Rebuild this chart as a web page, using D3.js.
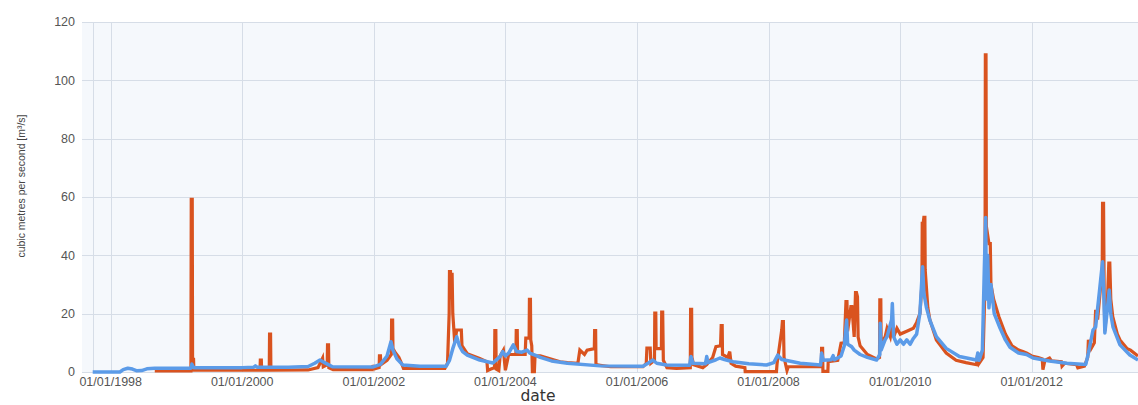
<!DOCTYPE html>
<html>
<head>
<meta charset="utf-8">
<script src="https://cdn.jsdelivr.net/npm/d3@7"></script>
<style>
html,body{margin:0;padding:0;background:#fff;}
svg{display:block;}
</style>
</head>
<body>
<svg id="chart" width="1138" height="405"></svg>
<script>
// ---- data (time as decimal year, value in m3/s) ----
const yTicks = [0, 20, 40, 60, 80, 100, 120];
const xTickYears = [1998, 2000, 2002, 2004, 2006, 2008, 2010, 2012];
const xDomainYears = [1997.726, 2013.614];

// orange series
const observed = [
[1998.67,0.4],[1999.22,0.4],[1999.225,59.2],[1999.24,59.2],[1999.245,4.3],[1999.26,4.3],[1999.265,0.6],
[2000.27,0.6],[2000.275,4.1],[2000.29,4.1],[2000.295,0.6],[2000.41,0.6],[2000.415,13.0],[2000.43,13.0],[2000.435,0.6],
[2001.0,0.7],[2001.15,1.5],[2001.22,4.8],[2001.23,1.8],[2001.29,2.5],[2001.295,9.3],[2001.31,9.3],[2001.315,1.5],[2001.38,0.8],
[2001.98,0.8],[2001.985,2.4],[2002.0,1.0],[2002.08,1.5],[2002.085,5.5],[2002.1,5.5],[2002.105,2.5],[2002.2,4],[2002.265,6],
[2002.27,17.8],[2002.285,17.8],[2002.29,8],[2002.33,6.5],[2002.38,5],[2002.42,3],[2002.45,1.2],
[2003.08,1.2],[2003.12,3],[2003.145,20],[2003.15,34.4],[2003.165,34.4],[2003.17,25],[2003.18,33.5],[2003.19,33.5],[2003.2,20],
[2003.23,10],[2003.26,14.4],[2003.33,14.4],[2003.34,9],[2003.42,6.3],[2003.61,4.6],[2003.72,3.5],[2003.73,0.5],[2003.78,1.0],
[2003.835,1.5],[2003.84,14.2],[2003.855,14.2],[2003.86,1],[2003.9,0.5],[2003.92,5.5],[2003.97,7.5],[2004.0,0.6],[2004.05,6],
[2004.16,6],[2004.165,14.2],[2004.18,14.2],[2004.185,6],[2004.3,6],[2004.31,11.6],[2004.36,11.6],[2004.365,24.9],[2004.38,24.9],
[2004.385,11],[2004.4,9],[2004.41,0.1],[2004.44,0.1],[2004.45,5.5],[2004.53,5.5],[2004.83,3.5],[2004.94,3.2],
[2005.1,3.0],[2005.13,7.5],[2005.2,6],[2005.24,7.5],[2005.35,8],[2005.355,14.2],[2005.37,14.2],[2005.375,2.5],[2005.44,2.3],[2005.6,1.8],
[2006.09,1.8],[2006.14,3],[2006.15,8.2],[2006.2,8.2],[2006.21,3],[2006.265,4],[2006.27,20.2],[2006.285,20.2],[2006.29,8],[2006.37,8],
[2006.375,20.5],[2006.39,20.5],[2006.4,4],[2006.455,1.5],[2006.6,1.2],[2006.81,1.5],[2006.815,21.5],[2006.83,21.5],[2006.835,5],[2006.86,2.5],
[2007.0,1.5],[2007.06,2.5],[2007.15,5],[2007.2,8.7],[2007.27,9],[2007.28,15.9],[2007.295,15.9],[2007.3,6],[2007.38,5],[2007.41,7],
[2007.43,3],[2007.5,2],[2007.64,1.5],[2007.645,0.1],[2008.12,0.1],[2008.13,3],[2008.2,14.4],[2008.21,17.3],[2008.225,17.3],[2008.235,5],
[2008.28,0.5],[2008.3,1.8],[2008.8,1.8],[2008.805,8.1],[2008.82,8.1],[2008.825,0.2],[2008.9,0.2],[2008.905,3.5],[2009.05,4],
[2009.1,9.9],[2009.15,10],[2009.175,24.1],[2009.19,24.1],[2009.2,14],[2009.25,22.4],[2009.265,22.4],[2009.3,12],[2009.32,27.2],
[2009.335,27.2],[2009.35,25.8],[2009.36,12],[2009.39,9],[2009.5,6],[2009.64,4.5],[2009.685,5],[2009.69,24.7],[2009.705,24.7],
[2009.71,10],[2009.77,12],[2009.8,15],[2009.85,12],[2009.88,16],[2009.9,12],[2009.95,15],[2010.0,13],[2010.1,14],[2010.2,15],
[2010.25,17],[2010.3,20],[2010.33,30],[2010.335,51],[2010.35,51],[2010.36,53],[2010.375,53],[2010.38,35],[2010.42,22],[2010.45,18],
[2010.55,11],[2010.7,6.5],[2010.85,4],[2011.0,3.2],[2011.16,2.5],[2011.18,6.5],[2011.2,3],[2011.26,5],[2011.29,30],[2011.295,108.7],
[2011.305,108.7],[2011.31,50],[2011.35,44],[2011.37,44],[2011.38,30],[2011.42,25],[2011.5,19],[2011.6,13],[2011.7,9],
[2011.8,7.5],[2011.865,7],[2011.92,6.5],[2012.0,5.5],[2012.1,5],[2012.16,4.5],[2012.17,0.8],[2012.2,4],[2012.27,4.8],[2012.3,3.8],
[2012.45,3.5],[2012.46,2],[2012.5,3],[2012.68,2.5],[2012.7,1.4],[2012.8,2],[2012.85,5],[2012.86,11],[2012.9,8],[2012.95,10],
[2012.97,21.3],[2013.0,18],[2013.04,28],[2013.07,35],[2013.075,57.8],[2013.09,57.8],[2013.1,25],[2013.11,14],[2013.15,25],
[2013.17,37.3],[2013.185,37.3],[2013.2,25],[2013.23,19],[2013.3,13],[2013.34,11],[2013.45,8],[2013.5,7.5],[2013.614,5.5]
];

// blue series
const modelled = [
[1997.726,0],[1998.14,0],[1998.19,0.8],[1998.26,1.3],[1998.33,1.0],[1998.4,0.4],[1998.47,0.5],[1998.55,1.1],[1998.67,1.3],
[1999.22,1.3],[1999.235,2.7],[1999.26,1.5],[2000.0,1.5],[2000.17,1.6],[2000.2,2.1],[2000.23,1.6],[2000.7,1.6],
[2001.0,1.9],[2001.1,3.0],[2001.18,4.1],[2001.25,3.2],[2001.3,2.6],[2001.37,1.8],[2001.98,1.7],[2002.1,2.6],[2002.2,5.5],
[2002.26,10.4],[2002.29,7.5],[2002.35,4.5],[2002.44,2.4],[2002.7,2.0],[2003.1,2.0],[2003.15,4],[2003.2,8],[2003.26,12.1],
[2003.3,9],[2003.35,7],[2003.42,5.8],[2003.61,4.1],[2003.81,3.1],[2003.88,4.5],[2003.92,5.3],[2003.96,7],[2004.0,5.5],
[2004.05,6.5],[2004.12,9.3],[2004.17,7],[2004.25,6.8],[2004.33,7.5],[2004.37,6.5],[2004.45,5.8],[2004.53,5.0],[2004.7,3.8],
[2004.94,3.0],[2005.44,2.1],[2006.09,2.0],[2006.18,3.2],[2006.24,4.1],[2006.3,3.0],[2006.45,2.4],[2006.8,2.3],[2006.82,5.3],
[2006.85,3.0],[2007.04,2.8],[2007.06,5.3],[2007.08,3.2],[2007.2,4.2],[2007.26,4.8],[2007.33,4.3],[2007.46,3.5],[2007.7,2.8],
[2007.97,2.4],[2008.08,3.2],[2008.14,5.8],[2008.2,4.3],[2008.37,3.5],[2008.48,3.0],[2008.79,2.4],[2008.805,6.5],[2008.83,4.0],
[2008.95,4.2],[2008.98,5.6],[2009.0,4.2],[2009.1,5.5],[2009.15,9],[2009.185,17.8],[2009.2,9.5],[2009.26,8.7],[2009.3,7.5],
[2009.39,6],[2009.5,5],[2009.64,4.1],[2009.69,6],[2009.695,16.7],[2009.71,7.5],[2009.77,11],[2009.8,12.1],[2009.87,18],
[2009.88,23.5],[2009.9,12.1],[2009.95,9.5],[2010.0,11],[2010.05,9.5],[2010.1,11],[2010.15,9.5],[2010.2,11.5],[2010.25,13],
[2010.3,20.2],[2010.34,36.1],[2010.36,27],[2010.4,22],[2010.45,17.8],[2010.55,12.1],[2010.7,8.1],[2010.9,5.3],[2011.16,4.1],
[2011.18,6.5],[2011.2,4],[2011.25,7.5],[2011.28,36],[2011.30,53],[2011.31,25],[2011.33,40],[2011.35,22],[2011.38,30],
[2011.43,20],[2011.52,15],[2011.6,11],[2011.67,8.5],[2011.8,6.5],[2011.92,6.0],[2012.02,4.8],[2012.27,3.8],[2012.53,3.0],
[2012.82,2.6],[2012.86,6.5],[2012.93,14.4],[2012.97,15.5],[2013.03,28.1],[2013.075,37.8],[2013.09,30],[2013.11,13.4],
[2013.15,22],[2013.176,28.1],[2013.2,20],[2013.233,15.5],[2013.34,9.3],[2013.49,5.8],[2013.614,4.1]
];

// ---- helpers ----
function toDate(y){
  const yr = Math.floor(y);
  const a = Date.UTC(yr,0,1), b = Date.UTC(yr+1,0,1);
  return new Date(a + (y-yr)*(b-a));
}

const svg = d3.select("#chart");
const plot = {left: 92.7, right: 1138, top: 22, bottom: 372, gridLeft: 82};

const x = d3.scaleUtc().domain(xDomainYears.map(toDate)).range([plot.left, plot.right]);
const y = d3.scaleLinear().domain([0,120]).range([plot.bottom, plot.top]);

// background
svg.append("rect").attr("x", plot.gridLeft).attr("y", plot.top)
  .attr("width", plot.right - plot.gridLeft).attr("height", plot.bottom - plot.top)
  .attr("fill", "#f5f8fc");

const gridColor = "#d6dde7";
svg.append("g").selectAll("line").data(yTicks).join("line")
  .attr("x1", plot.gridLeft).attr("x2", plot.right)
  .attr("y1", d => Math.round(y(d))+0.5).attr("y2", d => Math.round(y(d))+0.5)
  .attr("stroke", gridColor).attr("stroke-width", 1);
svg.append("line").attr("x1", Math.round(plot.left)+0.5).attr("x2", Math.round(plot.left)+0.5)
  .attr("y1", plot.top).attr("y2", plot.bottom).attr("stroke", gridColor);
const xTickDates = xTickYears.map(yr => new Date(Date.UTC(yr,0,1)));
svg.append("g").selectAll("line").data(xTickDates).join("line")
  .attr("x1", d => Math.round(x(d))+0.5).attr("x2", d => Math.round(x(d))+0.5)
  .attr("y1", plot.top).attr("y2", plot.bottom)
  .attr("stroke", gridColor).attr("stroke-width", 1);

svg.append("g").selectAll("text").data(yTicks).join("text")
  .attr("x", 75).attr("y", d => y(d)).attr("dy", "0.35em")
  .attr("text-anchor", "end")
  .attr("font-family", "Liberation Sans, Arial, sans-serif").attr("font-size", 12.5)
  .attr("fill", "#555").text(d => d);

const fmt = d3.utcFormat("%d/%m/%Y");
svg.append("g").selectAll("text").data(xTickDates).join("text")
  .attr("x", d => x(d)).attr("y", 385.5)
  .attr("text-anchor", "middle")
  .attr("font-family", "Liberation Sans, Arial, sans-serif").attr("font-size", 12.5)
  .attr("fill", "#555").text(d => fmt(d));

svg.append("text").attr("x", 538).attr("y", 401).attr("text-anchor", "middle")
  .attr("font-family", "DejaVu Sans, sans-serif").attr("font-size", 15.5)
  .attr("fill", "#333").text("date");

svg.append("text")
  .attr("transform", "translate(25,186) rotate(-90)")
  .attr("text-anchor", "middle")
  .attr("font-family", "Liberation Sans Narrow, Liberation Sans, sans-serif").attr("font-size", 11)
  .attr("textLength", 143).attr("lengthAdjust", "spacingAndGlyphs")
  .attr("fill", "#444").text("cubic metres per second [m³/s]");

svg.append("clipPath").attr("id", "clip").append("rect")
  .attr("x", plot.left - 2).attr("y", 0).attr("width", plot.right - plot.left + 4).attr("height", plot.bottom + 3);

const line = d3.line().x(d => x(toDate(d[0]))).y(d => y(d[1])).curve(d3.curveLinear);

const g = svg.append("g").attr("clip-path", "url(#clip)");
g.append("path").datum(observed).attr("d", line)
  .attr("fill", "none").attr("stroke", "#d9531f").attr("stroke-width", 3.2)
  .attr("stroke-linejoin", "miter");
g.append("path").datum(modelled).attr("d", line)
  .attr("fill", "none").attr("stroke", "#5b9be8").attr("stroke-width", 3.5)
  .attr("stroke-linejoin", "round");
</script>
</body>
</html>
